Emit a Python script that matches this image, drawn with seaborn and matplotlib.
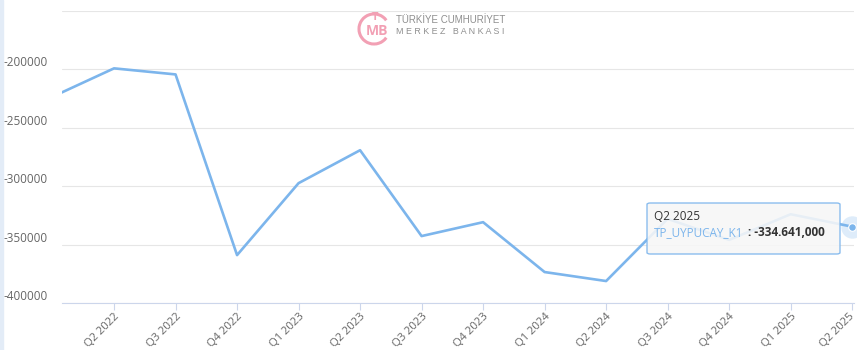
import matplotlib
matplotlib.use("Agg")
import matplotlib.pyplot as plt
import matplotlib.transforms as mtransforms
import seaborn as sns
import pandas as pd
from matplotlib.patches import Rectangle, FancyBboxPatch, Arc

quarters = ["Q1 2022", "Q2 2022", "Q3 2022", "Q4 2022", "Q1 2023", "Q2 2023", "Q3 2023",
            "Q4 2023", "Q1 2024", "Q2 2024", "Q3 2024", "Q4 2024", "Q1 2025", "Q2 2025"]
values = [-223400, -199100, -204300, -359000, -297400, -269200, -342700,
          -330800, -373500, -381200, -328000, -346000, -324000, -334641]
yticks = [-400000, -350000, -300000, -250000, -200000, -150000]
series_name = "TP_UYPUCAY_K1"
tooltip_value = "-334.641,000"

df = pd.DataFrame({"pos": range(len(quarters)), "quarter": quarters, "value": values})

sns.set_theme(style="white")
plt.rcParams["font.family"] = ["Open Sans", "DejaVu Sans"]

fig = plt.figure(figsize=(8.57, 3.5), dpi=100)
W, H = 857, 350
ax = fig.add_axes([62 / W, 1 - 303 / H, (854 - 62) / W, (303 - 11) / H])

sns.lineplot(data=df, x="pos", y="value", ax=ax, color="#7cb5ec", linewidth=1.9)

ax.set_xlim(0.154, 13.03)
ax.set_ylim(-400000, -150000)
ax.set_yticks(yticks)
ax.set_yticklabels([("" if v == -150000 else str(v)) for v in yticks], va="bottom")
ax.set_xticks(df["pos"][1:])
ax.set_xticklabels(df["quarter"][1:], rotation=45, ha="right", rotation_mode="anchor")
ax.set_xlabel("")
ax.set_ylabel("")
ax.grid(axis="y", color="#e6e6e6", linewidth=0.8)
ax.grid(axis="x", visible=False)
for s in ["top", "right", "left"]:
    ax.spines[s].set_visible(False)
ax.spines["bottom"].set_color("#ccd6eb")
ax.spines["bottom"].set_linewidth(0.8)
ax.tick_params(axis="x", colors="#666666", labelsize=8.1, length=5, width=0.8,
               direction="out", pad=1.0, bottom=True)
ax.tick_params(axis="x", color="#ccd6eb")
ax.tick_params(axis="y", colors="#666666", labelsize=8.5, length=0, pad=10.5)

# keep the last x label inside the figure
last_lbl = ax.get_xticklabels()[-1]
last_lbl.set_transform(last_lbl.get_transform() +
                       mtransforms.ScaledTranslation(-3 / 100, 0, fig.dpi_scale_trans))

# left strip
fig.patches.append(Rectangle((0, 0), 3 / W, 1, transform=fig.transFigure,
                             color="#e3ecf7", zorder=0))

# watermark logo
fig.patches.append(Arc((374 / W, 1 - 29 / H), 30 / W, 30 / H, theta1=60, theta2=300,
                       transform=fig.transFigure, color="#f2a0b4", linewidth=2.2))
fig.text(375 / W, 1 - 17 / H, "T", color="#f2a0b4", fontsize=8, fontweight="bold",
         ha="center", va="center")
fig.text(377 / W, 1 - 31 / H, "MB", color="#f2a0b4", fontsize=10, fontweight="bold",
         ha="center", va="center")
fig.text(396 / W, 1 - 20 / H, "TÜRKİYE CUMHURİYET", color="#8f8f8f", fontsize=7.0,
         ha="left", va="center", family=["Liberation Sans Narrow", "Liberation Sans", "DejaVu Sans"])
fig.text(396 / W, 1 - 32 / H, "M E R K E Z   B A N K A S I", color="#8f8f8f", fontsize=6.4,
         ha="left", va="center", family=["Liberation Sans", "DejaVu Sans"])

# highlighted last point
last_x, last_y = df["pos"].iloc[-1], df["value"].iloc[-1]
ax.scatter([last_x], [last_y], s=260, color="#7cb5ec", alpha=0.25, zorder=5,
           clip_on=False, linewidths=0)
ax.scatter([last_x], [last_y], s=30, color="#7cb5ec", zorder=6, clip_on=False,
           edgecolors="white", linewidths=0.8)

# tooltip
box = FancyBboxPatch((647 / W, 1 - 254 / H), (840 - 647) / W, (254 - 203) / H,
                     boxstyle="round,pad=0,rounding_size=0.004",
                     transform=fig.transFigure, facecolor="#f7f7f7", alpha=0.88,
                     edgecolor="#7cb5ec", linewidth=1.0, zorder=10)
fig.patches.append(box)
fig.text(654 / W, 1 - 217 / H, quarters[-1], color="#333333", fontsize=8.5,
         ha="left", va="center", zorder=11)
fig.text(654 / W, 1 - 233 / H, series_name, color="#7cb5ec", fontsize=8.5,
         ha="left", va="center", zorder=11)
fig.text(748 / W, 1 - 233 / H, ": " + tooltip_value,
         color="#333333", fontsize=8.5, fontweight="bold", ha="left", va="center", zorder=11)

fig.savefig("out.png", dpi=100, facecolor="white")
